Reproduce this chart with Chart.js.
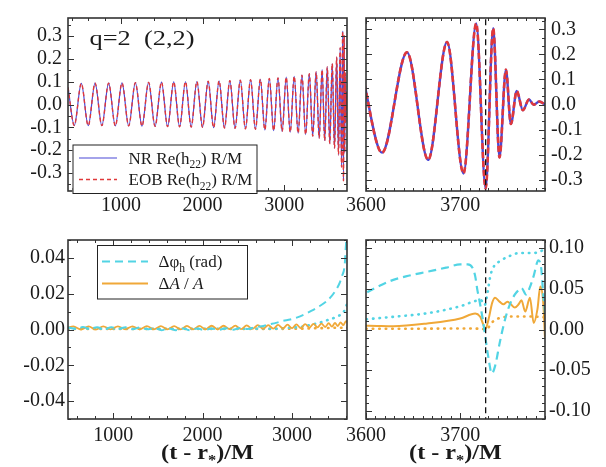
<!DOCTYPE html>
<html><head><meta charset="utf-8">
<script src="https://cdn.jsdelivr.net/npm/chart.js@4/dist/chart.umd.min.js"></script>
<style>
html,body{margin:0;padding:0;background:#fff;}
#wrap{position:relative;width:606px;height:467px;overflow:hidden;background:#fff;}
#wrap canvas{position:absolute;left:0;top:0;}
</style></head><body>
<div id="wrap">
<canvas id="tl" width="606" height="467"></canvas>
<canvas id="tr" width="606" height="467"></canvas>
<canvas id="bl" width="606" height="467"></canvas>
<canvas id="br" width="606" height="467"></canvas>
</div>
<script>
// ---------- data ----------
// waveform extrema (time in M, Re(h22) R/M)
const waveTime = [350,427,513,598,682,765,848,930,1012,1094,1176,1257,1338,1417,1496,1571,1646,1718,1790,1860,1930,1999,2068,2135,2202,2268,2334,2398,2462,2525,2588,2648,2708,2763,2818,2871,2924,2975,3025,3074,3123,3171,3218,3263,3308,3350,3392,3429,3465,3497,3528,3559,3589,3617,3643.5,3666,3686,3703.5,3717,3727,3735,3741.7,3748.5,3753.8,3760,3766.5,3773,3778,3784,3790];
const nrRe = [0.075,-0.092,0.093,-0.093,0.094,-0.093,0.094,-0.094,0.095,-0.094,0.096,-0.095,0.097,-0.096,0.098,-0.097,0.099,-0.098,0.100,-0.099,0.101,-0.100,0.102,-0.102,0.104,-0.103,0.105,-0.105,0.107,-0.107,0.109,-0.109,0.111,-0.112,0.114,-0.115,0.117,-0.118,0.120,-0.122,0.124,-0.126,0.129,-0.132,0.135,-0.139,0.143,-0.148,0.153,-0.159,0.165,-0.172,0.180,-0.192,0.208,-0.221,0.249,-0.275,0.323,-0.335,0.304,-0.211,0.139,-0.078,0.054,-0.023,0.020,-0.001,0.012,0.000];
// EOB curve lies on top of NR at the picture's resolution
const eobRe = [0.075,-0.092,0.093,-0.093,0.094,-0.093,0.094,-0.094,0.095,-0.094,0.096,-0.095,0.097,-0.096,0.098,-0.097,0.099,-0.098,0.100,-0.099,0.101,-0.100,0.102,-0.102,0.104,-0.103,0.105,-0.105,0.107,-0.107,0.109,-0.109,0.111,-0.112,0.114,-0.115,0.117,-0.118,0.120,-0.122,0.124,-0.126,0.129,-0.132,0.135,-0.139,0.143,-0.148,0.153,-0.159,0.165,-0.172,0.180,-0.192,0.208,-0.221,0.249,-0.275,0.323,-0.335,0.304,-0.211,0.139,-0.078,0.054,-0.023,0.020,-0.001,0.012,0.000];
const mergerTime = 3727;

// phase difference (dashed cyan)
const dphiT = [495,580,660,740,820,900,980,1060,1140,1220,1300,1380,1460,1540,1620,1700,1780,1860,1940,2020,2100,2180,2260,2340,2420,2500,2580,2660,2740,2820,2900,2980,3060,3140,3220,3300,3380,3440,3490,3530,3560,3590,3600,3615,3629,3645,3665,3685,3700,3708,3713,3716,3718,3721,3724,3726.5,3730,3733.5,3737,3742,3746,3750,3755,3760,3765,3770,3774,3778,3783,3786,3788,3790];
const dphiV = [0.0012,0.0004,0.0014,0.0004,0.0013,0.0003,0.0012,0.0004,0.0013,0.0002,0.0011,0.0001,0.0008,-0.0004,0.0006,-0.0004,0.0006,-0.0004,0.0005,-0.0003,0.0006,-0.0002,0.0007,-0.0001,0.0008,0.0003,0.0012,0.0018,0.0028,0.0037,0.0048,0.0056,0.0068,0.0085,0.0105,0.0128,0.0155,0.0185,0.0220,0.0257,0.0300,0.0365,0.045,0.054,0.061,0.066,0.071,0.076,0.080,0.080,0.076,0.065,0.050,0.032,0.012,-0.008,-0.035,-0.054,-0.045,-0.016,0.005,0.022,0.037,0.046,0.051,0.043,0.052,0.066,0.085,0.075,0.045,0.020];
// phase difference, second alignment (dotted cyan)
const dphiDotT = [495,1500,2500,2800,2950,3100,3200,3300,3400,3500,3580,3600,3629,3665,3700,3716,3722,3726,3729,3732,3736,3742,3750,3763,3778,3785,3790];
const dphiDotV = [0.0005,0.0004,0.0004,0.0004,0.0009,0.0015,0.0025,0.0037,0.0053,0.0072,0.0100,0.0125,0.0156,0.0200,0.0286,0.0350,0.0360,0.0300,0.0450,0.0660,0.0780,0.0840,0.0890,0.0940,0.0940,0.0960,0.0990];
// relative amplitude difference (solid orange)
const dampT = [495,555,640,725,806,889,971,1053,1135,1216,1297,1377,1456,1533,1608,1682,1754,1825,1895,1964,2033,2101,2168,2235,2301,2366,2430,2493,2556,2618,2678,2735,2790,2844,2897,2950,3000,3049,3098,3147,3194,3240,3285,3329,3371,3410,3447,3481,3512,3543,3574,3603,3629,3665,3700,3716,3721,3727,3730,3734,3737,3742,3746,3750,3753,3758,3762,3765,3769,3774,3778,3782,3785,3788,3790];
const dampV = [0.0010,0.0018,0.0000,0.0018,0.0000,0.0018,0.0001,0.0018,0.0001,0.0018,0.0001,0.0019,0.0001,0.0019,0.0001,0.0019,0.0001,0.0020,0.0001,0.0020,0.0001,0.0021,0.0001,0.0021,0.0002,0.0022,0.0002,0.0023,0.0003,0.0024,0.0004,0.0025,0.0005,0.0026,0.0006,0.0027,0.0007,0.0029,0.0008,0.0030,0.0010,0.0031,0.0012,0.0033,0.0014,0.0035,0.0016,0.0037,0.0019,0.0040,0.0024,0.0046,0.004,0.0074,0.0135,0.0196,0.016,0.0013,0.012,0.033,0.039,0.034,0.031,0.034,0.032,0.027,0.031,0.036,0.022,0.039,0.008,0.025,0.053,0.035,-0.010];
// relative amplitude difference, second alignment (dotted orange)
const dampDotT = [495,2000,3000,3600,3650,3700,3722,3727,3735,3745,3760,3775,3790];
const dampDotV = [0.0003,0.0003,0.0004,0.0010,0.0010,0.0012,0.0010,0.0000,0.0100,0.0150,0.0160,0.0160,0.0150];

// tick labels
const xTicksLeft = [1000,2000,3000];
const xTicksRight = [3600,3700];
const yTicksTop = [-0.3,-0.2,-0.1,0,0.1,0.2,0.3];
const yTicksBL = [-0.04,-0.02,0,0.02,0.04];
const yTicksBR = [-0.10,-0.05,0,0.05,0.10];

// ---------- drawing ----------
const FONT = "'Liberation Serif','Times New Roman',serif";
const BLUE = '#4a48d6', RED = '#e0383a', CYAN = '#52d4e4', ORANGE = '#f0a838';
const pts = (t, v) => t.map((x, i) => ({x: x, y: v[i]}));

function drawParts(ctx, parts, x, y, size, bold, align, hs) {
  hs = hs || 1;
  let w = 0;
  const seg = parts.map(p => {
    const s = p.sub ? size * 0.68 : size;
    const f = (p.italic ? 'italic ' : '') + (bold ? 'bold ' : '') + s + 'px ' + FONT;
    ctx.font = f;
    const m = ctx.measureText(p.t).width;
    w += m;
    return {t: p.t, f: f, m: m, dy: p.sub ? size * 0.28 : 0};
  });
  const x0 = align === 'center' ? x - w * hs / 2 : x;
  ctx.save();
  ctx.translate(x0, y); ctx.scale(hs, 1);
  ctx.textAlign = 'left'; ctx.textBaseline = 'alphabetic';
  let cx = 0;
  for (const r of seg) { ctx.font = r.f; ctx.fillText(r.t, cx, r.dy); cx += r.m; }
  ctx.restore();
}

const framePlugin = {
  id: 'frame',
  afterDatasetsDraw(chart, args, o) {
    const ctx = chart.ctx, a = chart.chartArea, xs = chart.scales.x, ys = chart.scales.y;
    ctx.save();
    ctx.strokeStyle = '#333';
    ctx.lineWidth = 1;
    ctx.beginPath();
    const vt = (v, len) => { const p = Math.round(xs.getPixelForValue(v)) + 0.5;
      ctx.moveTo(p, a.bottom); ctx.lineTo(p, a.bottom - len); ctx.moveTo(p, a.top); ctx.lineTo(p, a.top + len); };
    const ht = (v, len) => { const p = Math.round(ys.getPixelForValue(v)) + 0.5;
      ctx.moveTo(a.left, p); ctx.lineTo(a.left + len, p); ctx.moveTo(a.right, p); ctx.lineTo(a.right - len, p); };
    const steps = (min, max, step, f) => { for (let i = Math.ceil(min / step - 1e-6); i * step <= max + 1e-9; i++) f(i * step); };
    steps(xs.min, xs.max, o.xMinor, v => vt(v, 3));
    steps(xs.min, xs.max, o.xMajor, v => vt(v, 6));
    steps(ys.min, ys.max, o.yMinor, v => ht(v, 3));
    steps(ys.min, ys.max, o.yMajor, v => ht(v, 6));
    ctx.stroke();
    ctx.lineWidth = 1.6;
    ctx.strokeRect(a.left, a.top, a.width, a.height);
    ctx.restore();
  }
};

const legendPlugin = {
  id: 'boxLegend',
  afterDatasetsDraw(chart, args, o) {
    if (!o || !o.rows) return;
    const ctx = chart.ctx, a = chart.chartArea;
    const bx = a.left + o.dx, by = a.top + o.dy;
    ctx.save();
    ctx.fillStyle = '#fff';
    ctx.fillRect(bx, by, o.w, o.h);
    ctx.strokeStyle = '#222'; ctx.lineWidth = 1;
    ctx.strokeRect(bx + 0.5, by + 0.5, o.w, o.h);
    for (const r of o.rows) {
      const ds = chart.data.datasets[r.ds];
      ctx.strokeStyle = ds.borderColor; ctx.lineWidth = r.lw || ds.borderWidth;
      ctx.setLineDash(r.dash || ds.borderDash || []);
      ctx.beginPath(); ctx.moveTo(bx + o.x0, by + r.ly); ctx.lineTo(bx + o.x1, by + r.ly); ctx.stroke();
      ctx.setLineDash([]);
      ctx.fillStyle = '#1a1a1a';
      drawParts(ctx, r.parts, bx + o.tx, by + r.ly + 5.5, o.size, false, 'left', 1);
    }
    ctx.restore();
  }
};

const textPlugin = {
  id: 'richText',
  afterDraw(chart, args, o) {
    if (!o || !o.items) return;
    const ctx = chart.ctx, a = chart.chartArea;
    ctx.save(); ctx.fillStyle = '#1a1a1a';
    for (const it of o.items) {
      const x = it.align === 'center' ? (a.left + a.right) / 2 + it.dx : a.left + it.dx;
      const y = it.fromBottom ? a.bottom + it.dy : a.top + it.dy;
      drawParts(ctx, it.parts, x, y, it.size, it.bold, it.align, it.hs);
    }
    ctx.restore();
  }
};

function panel(id, o) {
  return new Chart(document.getElementById(id), {
    type: 'line',
    data: { datasets: o.datasets },
    options: {
      responsive: false, animation: false, devicePixelRatio: 1, events: [],
      layout: { padding: o.pad },
      plugins: {
        legend: {display: false}, tooltip: {enabled: false},
        frame: o.frame, richText: {items: o.texts || []}, boxLegend: o.legend || {}
      },
      scales: {
        x: { type: 'linear', position: 'bottom', min: o.xMin, max: o.xMax,
             grid: {display: false, drawTicks: false}, border: {display: false},
             afterBuildTicks: s => { s.ticks = o.xTicks.map(v => ({value: v})); },
             afterFit: s => { s.height = 30; },
             ticks: { autoSkip: false, maxRotation: 0, minRotation: 0, padding: o.xPad, color: '#1a1a1a',
                      font: {family: FONT, size: 20}, callback: v => String(Math.round(v)) } },
        y: { type: 'linear', position: o.yPos, min: o.yMin, max: o.yMax,
             grid: {display: false, drawTicks: false}, border: {display: false},
             afterBuildTicks: s => { s.ticks = o.yTicks.map(v => ({value: v})); },
             afterFit: s => { s.width = o.yW; },
             ticks: { autoSkip: false, padding: o.yPad, color: '#1a1a1a',
                      font: {family: FONT, size: 20},
                      callback: v => (Math.abs(v) < 1e-9 ? 0 : v).toFixed(o.yDec) } }
      }
    },
    plugins: [framePlugin, legendPlugin, textPlugin]
  });
}

const lineDs = (label, t, v, color, w, dash, order, cap) => ({
  label: label, data: pts(t, v), borderColor: color, borderWidth: w, borderDash: dash || [],
  borderCapStyle: cap || 'butt', pointRadius: 0, cubicInterpolationMode: 'monotone', fill: false, order: order
});
const mergerDs = () => ({ label: 'merger', data: [{x: mergerTime, y: -1}, {x: mergerTime, y: 1}],
  borderColor: '#111', borderWidth: 1.3, borderDash: [6, 4], pointRadius: 0, tension: 0, order: -1 });

const axisTitle = {parts: [{t: '(t - r'}, {t: '*', sub: true}, {t: ')/M'}], align: 'center', dx: 0, dy: 40, fromBottom: true, size: 22, bold: true, hs: 1.1};

// top-left
panel('tl', {
  pad: {left: 8, right: 259, top: 11, bottom: 246},
  xMin: 350, xMax: 3770, xTicks: xTicksLeft, xPad: 3,
  yMin: -0.38, yMax: 0.38, yTicks: yTicksTop, yPos: 'left', yW: 60, yPad: 6, yDec: 1,
  frame: {xMajor: 1000, xMinor: 200, yMajor: 0.1, yMinor: 0.05},
  datasets: [
    lineDs('NR Re(h22) R/M', waveTime, nrRe, BLUE, 1.2, [], 1),
    lineDs('EOB Re(h22) R/M', waveTime, eobRe, RED, 1.4, [4, 3], 0)
  ],
  legend: {dx: 4.5, dy: 126.5, w: 184, h: 48.5, x0: 6.5, x1: 44.5, tx: 56, size: 17,
    rows: [{ds: 0, ly: 13.5, parts: [{t: 'NR Re(h'}, {t: '22', sub: true}, {t: ') R/M'}]},
           {ds: 1, ly: 35, parts: [{t: 'EOB Re(h'}, {t: '22', sub: true}, {t: ') R/M'}]}]},
  texts: [{parts: [{t: 'q=2  (2,2)'}], dx: 21.5, dy: 27, size: 22, hs: 1.2}]
});

// top-right
panel('tr', {
  pad: {left: 366, right: 6, top: 11, bottom: 246},
  xMin: 3600, xMax: 3790, xTicks: xTicksRight, xPad: 3,
  yMin: -0.345, yMax: 0.345, yTicks: yTicksTop, yPos: 'right', yW: 55, yPad: 6, yDec: 1,
  frame: {xMajor: 100, xMinor: 10, yMajor: 0.1, yMinor: 0.1 / 3},
  datasets: [
    lineDs('NR Re(h22) R/M', waveTime, nrRe, BLUE, 2.4, [], 1),
    lineDs('EOB Re(h22) R/M', waveTime, eobRe, RED, 2.6, [6, 3], 0),
    mergerDs()
  ]
});

// bottom-left
panel('bl', {
  pad: {left: 8, right: 259, top: 240, bottom: 18},
  xMin: 495, xMax: 3615, xTicks: xTicksLeft, xPad: 5,
  yMin: -0.05, yMax: 0.05, yTicks: yTicksBL, yPos: 'left', yW: 60, yPad: 3, yDec: 2,
  frame: {xMajor: 1000, xMinor: 200, yMajor: 0.02, yMinor: 0.01},
  datasets: [
    lineDs('Δφh (rad)', dphiT, dphiV, CYAN, 2, [8, 5], 0),
    lineDs('ΔA / A', dampT, dampV, ORANGE, 1.8, [], 1),
    lineDs('Δφh (rad), dotted', dphiDotT, dphiDotV, CYAN, 2.6, [0.5, 6], 2, 'round'),
    lineDs('ΔA / A, dotted', dampDotT, dampDotV, ORANGE, 2.6, [0.5, 6], 3, 'round')
  ],
  legend: {dx: 29, dy: 5, w: 150, h: 53.5, x0: 5, x1: 51, tx: 61.5, size: 17,
    rows: [{ds: 0, ly: 16.5, parts: [{t: 'Δφ'}, {t: 'h', sub: true}, {t: ' (rad)'}]},
           {ds: 1, ly: 38.5, parts: [{t: 'Δ'}, {t: 'A', italic: true}, {t: ' / '}, {t: 'A', italic: true}]}]},
  texts: [axisTitle]
});

// bottom-right
panel('br', {
  pad: {left: 366, right: 6, top: 240, bottom: 18},
  xMin: 3600, xMax: 3790, xTicks: xTicksRight, xPad: 5,
  yMin: -0.11, yMax: 0.11, yTicks: yTicksBR, yPos: 'right', yW: 55, yPad: 4, yDec: 2,
  frame: {xMajor: 100, xMinor: 10, yMajor: 0.05, yMinor: 0.01},
  datasets: [
    lineDs('Δφh (rad)', dphiT, dphiV, CYAN, 2.2, [8, 5], 0),
    lineDs('ΔA / A', dampT, dampV, ORANGE, 2, [], 1),
    lineDs('Δφh (rad), dotted', dphiDotT, dphiDotV, CYAN, 2.6, [0.5, 6], 2, 'round'),
    lineDs('ΔA / A, dotted', dampDotT, dampDotV, ORANGE, 2.6, [0.5, 6], 3, 'round'),
    mergerDs()
  ],
  texts: [axisTitle]
});
</script>
</body></html>
